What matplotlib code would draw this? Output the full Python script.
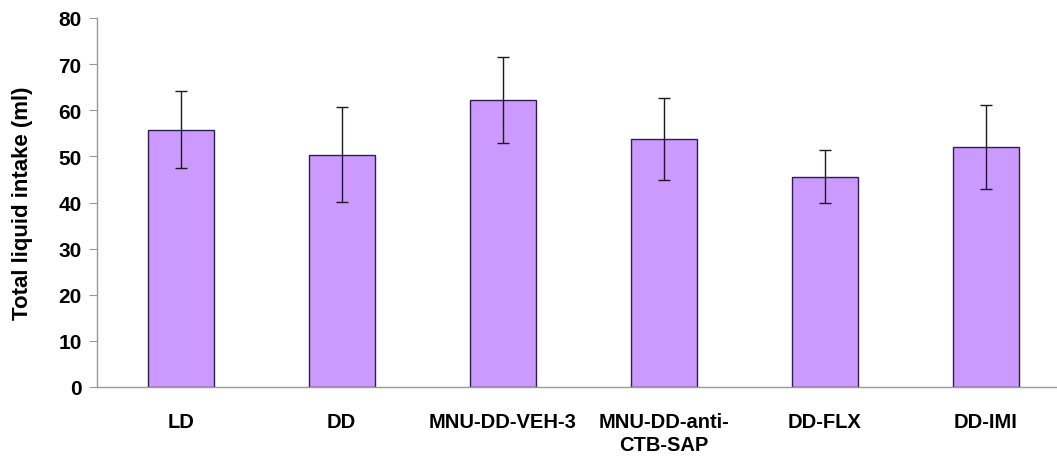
import matplotlib.pyplot as plt
import numpy as np

plt.rcParams['font.family'] = ['Liberation Sans', 'DejaVu Sans']

groups = ['LD', 'DD', 'MNU-DD-VEH-3', 'MNU-DD-anti-\nCTB-SAP', 'DD-FLX', 'DD-IMI']
intake = [55.8, 50.4, 62.3, 53.7, 45.6, 52.0]
sem = [8.4, 10.2, 9.3, 8.9, 5.7, 9.1]

fig = plt.figure(figsize=(10.57, 4.64), dpi=100)
ax = fig.add_axes([97 / 1057, 1 - 388 / 464, 966 / 1057, 369 / 464])

x = np.arange(len(groups))
ax.bar(x, intake, width=0.41, color='#CC99FF', edgecolor='#2a1f4f', linewidth=1.0,
       yerr=sem, capsize=4, error_kw=dict(ecolor='#1a1a2a', elinewidth=1.0, capthick=1.0))

ax.set_xlim(-0.52, 5.48)
ax.set_ylim(0, 80)
ax.set_yticks(range(0, 81, 10))
ax.set_xticks(x)
ax.set_xticklabels(groups, fontsize=14.5, fontweight='bold', linespacing=1.25)
ax.tick_params(axis='x', length=0, pad=18)
ax.tick_params(axis='y', length=6, color='#999999', labelsize=15, pad=5)
for lab in ax.get_yticklabels():
    lab.set_fontweight('bold')
ax.set_ylabel('Total liquid intake (ml)', fontsize=16, fontweight='bold', labelpad=18)

for s in ['top', 'right']:
    ax.spines[s].set_visible(False)
for s in ['left', 'bottom']:
    ax.spines[s].set_color('#999999')
    ax.spines[s].set_linewidth(1.0)

fig.savefig('out.png', dpi=100)
